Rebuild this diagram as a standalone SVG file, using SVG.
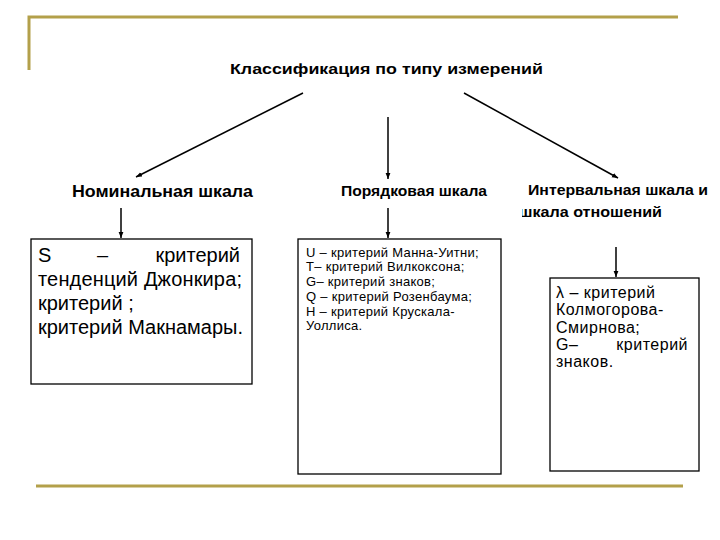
<svg xmlns="http://www.w3.org/2000/svg" width="720" height="540" viewBox="0 0 720 540">
<style>
  text { font-family: "Liberation Sans", Arial, sans-serif; fill: #000; }
  .title { font-size: 15px; font-weight: bold; }
  .head { font-weight: bold; }
  .big { font-size: 20px; }
  .small { font-size: 13px; letter-spacing: 0.3px; }
  .mid { font-size: 16px; letter-spacing: 0.5px; }
  .box { fill: #fff; stroke: #000; stroke-width: 1.3; }
  .conn { stroke: #000; stroke-width: 1.5; fill: none; marker-end: url(#arr); }
  .gold { stroke: #B3A04A; stroke-width: 3; fill: none; }
</style>
<defs>
  <marker id="arr" viewBox="0 0 10 10" refX="10" refY="5" markerWidth="6" markerHeight="6" orient="auto" markerUnits="userSpaceOnUse">
    <path d="M0,1 L10,5 L0,9 z" fill="#000"/>
  </marker>
  <clipPath id="clipR"><rect x="522" y="200" width="200" height="30"/></clipPath>
</defs>
<rect width="720" height="540" fill="#fff"/>
<g id="frame">
  <path class="gold" d="M29,70 V17 H678"/>
  <path class="gold" d="M36,486 H683"/>
</g>
<g id="title">
  <text class="title" x="230" y="74" textLength="313" lengthAdjust="spacingAndGlyphs">Классификация по типу измерений</text>
</g>
<g id="nominal">
  <text class="head" x="72" y="197" font-size="16" textLength="181" lengthAdjust="spacingAndGlyphs">Номинальная шкала</text>
  <rect class="box" x="31" y="239" width="221" height="145"/>
  <text class="big" x="38" y="262">S</text>
  <text class="big" x="97" y="262">–</text>
  <text class="big" x="240" y="262" text-anchor="end">критерий</text>
  <text class="big" x="38" y="286" textLength="204" lengthAdjust="spacing">тенденций Джонкира;</text>
  <text class="big" x="38" y="310">критерий ;</text>
  <text class="big" x="38" y="334" textLength="205" lengthAdjust="spacing">критерий Макнамары.</text>
</g>
<g id="ordinal">
  <text class="head" x="341" y="196" font-size="14" textLength="146" lengthAdjust="spacingAndGlyphs">Порядковая шкала</text>
  <rect class="box" x="298" y="239" width="203" height="235"/>
  <text class="small" x="306" y="257">U – критерий Манна-Уитни;</text>
  <text class="small" x="306" y="271">T– критерий Вилкоксона;</text>
  <text class="small" x="306" y="286">G– критерий знаков;</text>
  <text class="small" x="306" y="301">Q – критерий Розенбаума;</text>
  <text class="small" x="306" y="316">H – критерий Крускала-</text>
  <text class="small" x="306" y="330">Уоллиса.</text>
</g>
<g id="interval">
  <text class="head" x="528" y="195" font-size="14" textLength="180" lengthAdjust="spacingAndGlyphs">Интервальная шкала и</text>
  <text class="head" x="519" y="217" font-size="14" textLength="143" lengthAdjust="spacingAndGlyphs" clip-path="url(#clipR)">шкала отношений</text>
  <rect class="box" x="550" y="278" width="149" height="193"/>
  <text class="mid" x="556" y="298">λ – критерий</text>
  <text class="mid" x="556" y="315">Колмогорова-</text>
  <text class="mid" x="556" y="333">Смирнова;</text>
  <text class="mid" x="556" y="350">G–</text>
  <text class="mid" x="688" y="350" text-anchor="end">критерий</text>
  <text class="mid" x="556" y="367">знаков.</text>
</g>
<g id="connectors">
  <line class="conn" x1="303" y1="93" x2="136" y2="177"/>
  <line class="conn" x1="388" y1="117" x2="388" y2="179"/>
  <line class="conn" x1="464" y1="93" x2="618" y2="178"/>
  <line class="conn" x1="121" y1="208" x2="121" y2="238"/>
  <line class="conn" x1="388" y1="208" x2="388" y2="238"/>
  <line class="conn" x1="616" y1="247" x2="616" y2="277"/>
</g>
</svg>
